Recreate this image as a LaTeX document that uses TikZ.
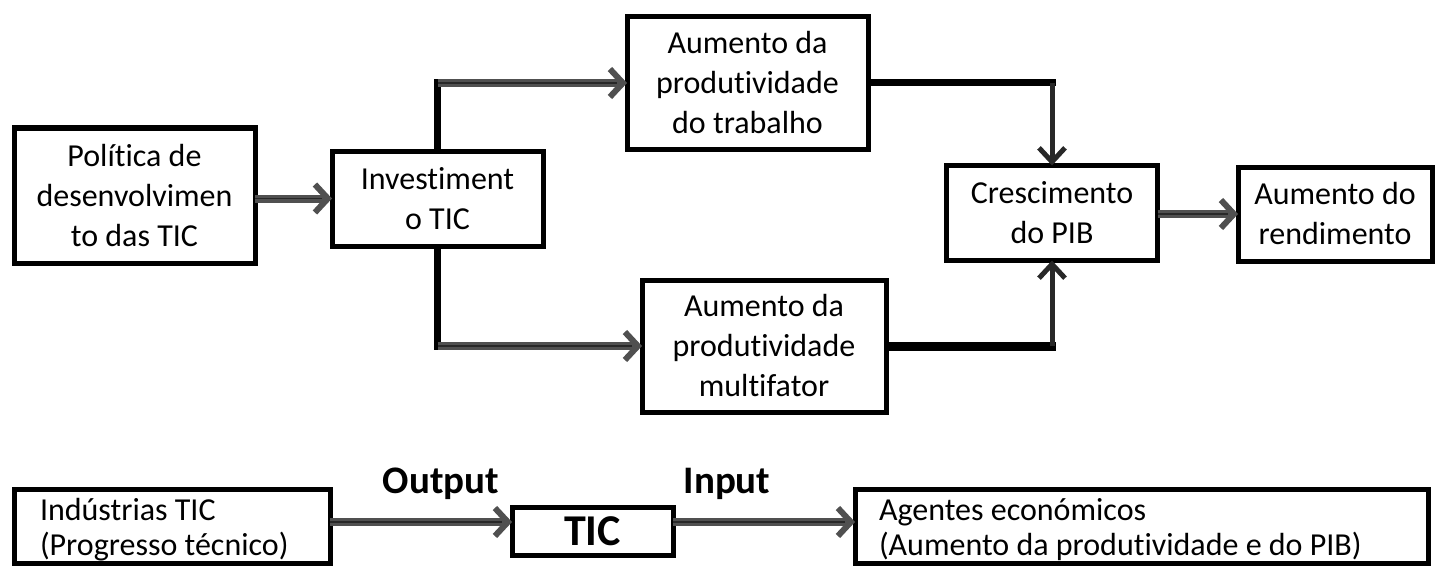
\documentclass[tikz,border=0pt]{standalone}
\usepackage{fontspec}
\setmainfont{Carlito}[Ligatures={NoCommon,NoContextual}]
\usetikzlibrary{arrows.meta,calc}
\definecolor{arrgray}{RGB}{80,80,80}
\definecolor{arrdark}{RGB}{40,40,40}
\tikzset{
  box/.style={draw=black,line width=5pt,inner sep=0pt,outer sep=0pt,fill=white,
    font=\fontsize{32}{40}\selectfont,align=center},
  ltext/.style={inner sep=0pt,outer sep=0pt,anchor=west,align=flush left,font=\fontsize{32}{35}\selectfont},
  garrow/.style={draw=arrgray,line width=8pt,
    -{Straight Barb[length=13pt,width=28pt,line width=6pt]},
    postaction={draw=arrdark,line width=1.5pt,-, shorten >=10pt}},
  darrow/.style={draw=arrdark,line width=5pt,
    -{Straight Barb[length=14pt,width=26pt,line width=5pt]}},
  bline/.style={draw=black,line width=7pt},
  lbl/.style={font=\fontsize{39}{44}\selectfont\bfseries}
}
\begin{document}
\begin{tikzpicture}[x=1pt,y=-1pt]
\useasboundingbox (0,0) rectangle (1439,567);
% top row
\node[box,minimum width=241pt,minimum height=135pt] (pol) at (134.5,195.5) {Política de\\desenvolvimen\\to das TIC};
\node[box,minimum width=211pt,minimum height=95pt] (inv) at (437.5,198.5) {Investiment\\o TIC};
\node[box,minimum width=241pt,minimum height=133pt] (trab) at (747.5,83) {Aumento da\\produtividade\\do trabalho};
\node[box,minimum width=244pt,minimum height=132pt] (mult) at (764,346) {Aumento da\\produtividade\\multifator};
\node[box,minimum width=211pt,minimum height=95pt] (cres) at (1052,213) {Crescimento\\do PIB};
\node[box,minimum width=194pt,minimum height=94pt] (rend) at (1335,214) {Aumento do\\rendimento};
% bottom row
\node[box,minimum width=316pt,minimum height=74pt] (ind) at (172,526) {};
\node[ltext] (indt) at ($(ind.west)+(26,4)$) {Indústrias TIC\\(Progresso técnico)};
\node[box,minimum width=161pt,minimum height=48pt,font=\fontsize{44}{48}\selectfont\bfseries] (tic) at (592.5,531) {TIC};
\node[box,minimum width=573pt,minimum height=74pt] (age) at (1141.5,526) {};
\node[ltext] (aget) at ($(age.west)+(24,4)$) {Agentes económicos\\(Aumento da produtividade e do PIB)};
\node[lbl] (out) at (441,484) {Output};
\node[lbl] (inp) at (727,484) {Input};
% coordinates
\coordinate (ta) at (inv.north |- trab.west);
\coordinate (tb) at (inv.south |- mult.west);
\coordinate (tc) at (cres.north |- trab.east);
\coordinate (td) at (cres.south |- mult.east);
\coordinate (ia) at ([yshift=4pt]ind.east);
\coordinate (ib) at ([yshift=9pt]tic.east);
% connectors
\draw[garrow] (pol.east |- inv.west) -- (inv.west);
\draw[bline] (inv.north) -- ([yshift=3.5pt]ta);
\draw[garrow] (ta) -- (trab.west);
\draw[bline] (inv.south) -- ([yshift=-3.5pt]tb);
\draw[garrow] (tb) -- (mult.west);
\draw[bline] (trab.east) -- ([xshift=3.5pt]tc);
\draw[darrow] (tc) -- (cres.north);
\draw[bline,line width=9pt] (mult.east) -- ([xshift=3.5pt]td);
\draw[darrow] (td) -- (cres.south);
\draw[garrow] (cres.east |- rend.west) -- (rend.west);
\draw[garrow] (ia) -- (ia -| tic.west);
\draw[garrow] (ib) -- (ib -| age.west);
\end{tikzpicture}
\end{document}
